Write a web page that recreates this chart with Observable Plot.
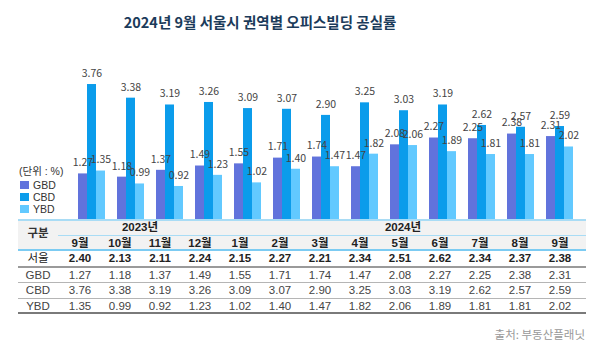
<!DOCTYPE html>
<html><head><meta charset="utf-8">
<script src="https://cdn.jsdelivr.net/npm/d3@7"></script>
<script src="https://cdn.jsdelivr.net/npm/@observablehq/plot@0.6"></script>
<style>
body{margin:0;width:600px;height:350px;position:relative;background:#fff;font-family:"Noto Sans CJK KR","Noto Sans",sans-serif;overflow:hidden}
#title{position:absolute;left:0;top:0;width:520px;height:44px;line-height:44px;text-align:center;font-size:14.5px;font-weight:bold;color:#1b3b5a}
#chart{position:absolute;left:0;top:44px}
#legend{position:absolute;left:19px;top:164px;font-size:10.5px;color:#333;font-family:"Liberation Sans","Noto Sans CJK KR",sans-serif}
#legend .hd{height:14px;line-height:14px;margin-bottom:1px}
#legend .it{display:flex;align-items:center;height:12px;line-height:12px}
#legend .sw{width:9px;height:8px;margin:0 4px 0 1px}
#tbl{position:absolute;left:0;top:0;width:600px;height:350px;pointer-events:none;font-family:"Liberation Sans","Noto Sans CJK KR",sans-serif}
.c{position:absolute;width:40px;height:14px;line-height:14px;text-align:center;font-size:11.5px;white-space:nowrap}
.ln{position:absolute}
#source{position:absolute;right:15px;top:326px;font-size:11.5px;color:#999}
</style></head>
<body>
<div id="title">2024년 9월 서울시 권역별 오피스빌딩 공실률</div>
<div id="chart"></div>
<div id="legend"></div>
<div id="tbl"></div>
<div id="source">출처: 부동산플래닛</div>
<script>
const keys = ["2023-09","2023-10","2023-11","2023-12","2024-01","2024-02","2024-03","2024-04","2024-05","2024-06","2024-07","2024-08","2024-09"];
const monthLabels = ["9월","10월","11월","12월","1월","2월","3월","4월","5월","6월","7월","8월","9월"];
const yearLabels = ["2023년","2024년"];
const yearSpans = [4, 9];
const seoul = [2.40,2.13,2.11,2.24,2.15,2.27,2.21,2.34,2.51,2.62,2.34,2.37,2.38];
const gbd = [1.27,1.18,1.37,1.49,1.55,1.71,1.74,1.47,2.08,2.27,2.25,2.38,2.31];
const cbd = [3.76,3.38,3.19,3.26,3.09,3.07,2.90,3.25,3.03,3.19,2.62,2.57,2.59];
const ybd = [1.35,0.99,0.92,1.23,1.02,1.40,1.47,1.82,2.06,1.89,1.81,1.81,2.02];
const seriesNames = ["GBD","CBD","YBD"];
const seriesColors = ["#6173dc","#0b9ceb","#62c9ff"];
const unitLabel = "(단위 : %)";
const rowHeader = "구분";
const seoulLabel = "서울";

const seriesValues = [gbd, cbd, ybd];
const data = [];
keys.forEach((k,i)=>seriesNames.forEach((s,j)=>data.push({key:k, series:s, value:seriesValues[j][i]})));

const chart = Plot.plot({
  width:600, height:176,
  marginTop:0, marginBottom:1, marginLeft:72, marginRight:23,
  style:{fontFamily:"'Noto Sans CJK KR','Noto Sans',sans-serif", background:"transparent", overflow:"visible"},
  fx:{domain:keys, paddingInner:0.24, paddingOuter:0, axis:null},
  x:{domain:seriesNames, padding:0.05, axis:null},
  y:{domain:[0,4.875], axis:null},
  color:{domain:seriesNames, range:seriesColors},
  marks:[
    Plot.barY(data,{fx:"key", x:"series", y:"value", fill:"series"}),
    Plot.text(data,{fx:"key", x:"series", y:"value", text:d=>d.value.toFixed(2), dy:-11, fontSize:10.5, fill:"#444"})
  ]
});
document.getElementById("chart").appendChild(chart);

// legend
const lg = document.getElementById("legend");
lg.innerHTML = `<div class="hd">${unitLabel}</div>` +
  seriesNames.map((s,i)=>`<div class="it"><span class="sw" style="background:${seriesColors[i]}"></span>${s}</div>`).join("");

// table (absolutely laid out)
const T = document.getElementById("tbl");
const L = 18, R = 586, col0 = 60, colW = 40;
const add = (h)=>T.insertAdjacentHTML("beforeend", h);
const rect = (x,y,w,h,c)=>add(`<div class="ln" style="left:${x}px;top:${y}px;width:${w}px;height:${h}px;background:${c}"></div>`);
const cell = (cx,cy,t,style)=>add(`<div class="c" style="left:${cx-20}px;top:${cy-7}px;${style||""}">${t}</div>`);
rect(L,219,R-L,31,"#f2f2f2");
rect(L,219,R-L,2,"#a9dcf5");
rect(58,235,R-58,1,"#a9dcf5");
rect(L,249,R-L,2,"#7ccbf2");
rect(L,266,R-L,2,"#9a9a9a");
rect(L,282,R-L,1,"#b5b5b5");
rect(L,298,R-L,1,"#b5b5b5");
rect(L,312,R-L,2,"#7a7a7a");
cell(38,233,rowHeader,"font-weight:bold;color:#333");
let start = 0;
yearLabels.forEach((y,i)=>{
  const x0 = col0 + start*colW, x1 = i===yearLabels.length-1 ? R : col0 + (start+yearSpans[i])*colW;
  cell((x0+x1)/2, 227, y, "font-weight:bold;color:#222");
  start += yearSpans[i];
});
monthLabels.forEach((m,i)=>cell(col0+colW*i+20, 243, m, "font-weight:bold;color:#222"));
cell(38,258,seoulLabel,"color:#222");
seoul.forEach((v,i)=>cell(col0+colW*i+20, 258, v.toFixed(2), "font-weight:bold;color:#222"));
const rowY = [275,290,306];
seriesNames.forEach((s,j)=>{
  cell(38,rowY[j],s,"color:#444");
  seriesValues[j].forEach((v,i)=>cell(col0+colW*i+20,rowY[j],v.toFixed(2),"color:#444"));
});
</script>
</body></html>
